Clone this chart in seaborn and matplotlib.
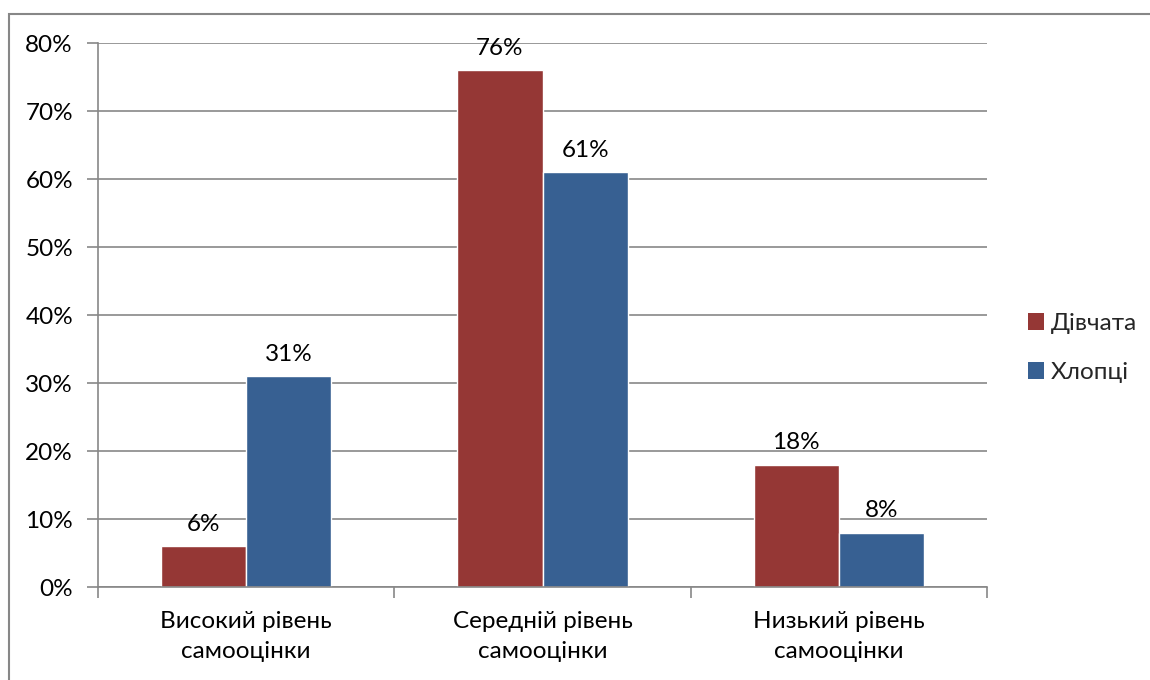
import matplotlib
matplotlib.use("Agg")
import matplotlib.pyplot as plt
import matplotlib.patches as mpatches
import seaborn as sns
import pandas as pd

categories = ["Високий рівень\nсамооцінки", "Середній рівень\nсамооцінки", "Низький рівень\nсамооцінки"]
girls = [0.06, 0.76, 0.18]
boys = [0.31, 0.61, 0.08]
series = ["Дівчата", "Хлопці"]
colors = ["#953735", "#376092"]

df = pd.DataFrame({
    "cat": categories * 2,
    "val": girls + boys,
    "grp": [series[0]] * 3 + [series[1]] * 3,
})

sns.set_theme(style="white")
plt.rcParams["font.family"] = ["Lato", "DejaVu Sans"]
FS = 17.5

fig = plt.figure(figsize=(11.5, 6.8), dpi=100)
ax = fig.add_axes([98 / 1150, 1 - 587 / 680, (987 - 98) / 1150, (587 - 43) / 680])

# outer chart border like the excel frame
fig.patches.append(mpatches.Rectangle((9 / 1150, -0.1), 2, 1 - 14 / 680 + 0.1,
                                      transform=fig.transFigure, fill=False,
                                      edgecolor="#878787", linewidth=1.5))

sns.barplot(data=df, x="cat", y="val", hue="grp", palette=colors,
            width=0.575, saturation=1, ax=ax, legend=False, errorbar=None)

for cont, vals in zip(ax.containers, [girls, boys]):
    ax.bar_label(cont, labels=[f"{v:.0%}" for v in vals], padding=8, fontsize=FS, color="black")

ax.set_xlim(-0.5, 2.5)
ax.set_ylim(0, 0.8)
ax.set_yticks([i / 10 for i in range(9)])
ax.set_yticklabels([f"{i * 10}%" for i in range(9)], fontsize=FS, color="black")
ax.set_xticks([-0.5, 0.5, 1.5, 2.5], minor=True)
ax.set_xticks([0, 1, 2])
ax.set_xticklabels(categories, fontsize=FS, linespacing=1.55, color="black")
ax.tick_params(axis="x", which="major", length=0, pad=17)
ax.tick_params(axis="x", which="minor", length=8, color="#878787", width=1.2, direction="out", bottom=True)
ax.tick_params(axis="y", length=8, color="#878787", width=1.2, direction="out", left=True, pad=10)
ax.set_xlabel("")
ax.set_ylabel("")
ax.grid(axis="y", color="#878787", linewidth=1.2)
ax.set_axisbelow(True)
for s in ["top", "right"]:
    ax.spines[s].set_visible(False)
for s in ["left", "bottom"]:
    ax.spines[s].set_color("#878787")
    ax.spines[s].set_linewidth(1.2)

handles = [mpatches.Patch(facecolor=c, edgecolor="none") for c in colors]
fig.legend(handles, series, loc="center left", bbox_to_anchor=(1006 / 1150, 1 - 348 / 680),
           frameon=False, fontsize=FS, handlelength=0.65, handleheight=0.65,
           handletextpad=0.3, labelspacing=1.15)

fig.savefig("out.png", dpi=100)
